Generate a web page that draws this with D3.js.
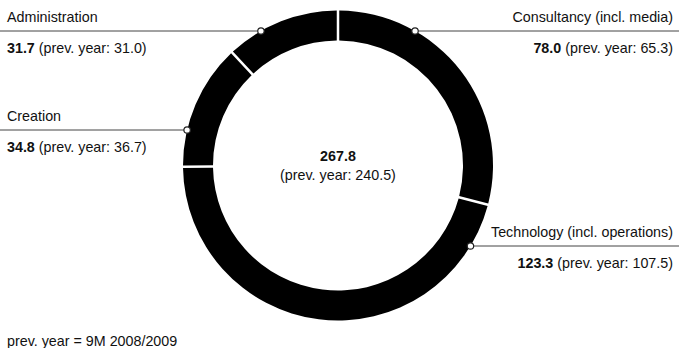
<!DOCTYPE html>
<html>
<head>
<meta charset="utf-8">
<script src="https://cdn.jsdelivr.net/npm/d3@7/dist/d3.min.js"></script>
<style>
  html, body { margin: 0; padding: 0; background: #fff; }
  svg { display: block; font-family: "Liberation Sans", Arial, Helvetica, sans-serif; }
</style>
</head>
<body>
<svg id="chart" width="679" height="348"></svg>
<script>
// Revenue by segment, clockwise from 12 o'clock
const segments = ["Consultancy (incl. media)", "Technology (incl. operations)", "Creation", "Administration"];
const values = [78.0, 123.3, 34.8, 31.7];
const prevValues = [65.3, 107.5, 36.7, 31.0];
const total = 267.8;
const prevTotal = 240.5;
const footnote = "prev. year = 9M 2008/2009";

// Label placement per segment: side and baseline of the name row
const labelSide = ["right", "right", "left", "left"];
const labelY = [21.5, 236.5, 120.5, 21.5];

const W = 679, H = 348;
const cx = 338, cy = 165.5, R = 155, r = 125;
const FS = 14.3;
const fmt = d3.format(".1f");

const svg = d3.select("#chart");

const pie = d3.pie().sort(null).value(d => d).padAngle(2.5 / 140);
const arc = d3.arc().innerRadius(r).outerRadius(R).padRadius(140);

const g = svg.append("g").attr("transform", `translate(${cx},${cy})`);
g.selectAll("path")
  .data(pie(values))
  .join("path")
  .attr("d", arc)
  .attr("fill", "#000");

// Centre total
const centre = svg.append("g").attr("text-anchor", "middle").attr("fill", "#111").attr("font-size", FS);
centre.append("text").attr("x", cx).attr("y", 160.5).attr("font-weight", "bold").text(fmt(total));
centre.append("text").attr("x", cx).attr("y", 179.5).text(`(prev. year: ${fmt(prevTotal)})`);

// Leader lines and labels
segments.forEach((name, i) => {
  const side = labelSide[i];
  const lineY = labelY[i] + 9.5;
  const dy = lineY - cy;
  const dx = Math.sqrt(R * R - dy * dy);
  const dotX = side === "right" ? cx + dx : cx - dx;

  svg.append("line")
    .attr("x1", side === "right" ? dotX : 0)
    .attr("x2", side === "right" ? W : dotX)
    .attr("y1", lineY).attr("y2", lineY)
    .attr("stroke", "#444").attr("stroke-width", 1);

  svg.append("circle")
    .attr("cx", dotX).attr("cy", lineY).attr("r", 3.2)
    .attr("fill", "#fff").attr("stroke", "#222").attr("stroke-width", 1.2);

  const tx = side === "right" ? 673 : 7;
  const anchor = side === "right" ? "end" : "start";

  svg.append("text")
    .attr("x", tx).attr("y", labelY[i])
    .attr("text-anchor", anchor).attr("font-size", FS).attr("fill", "#111")
    .text(name);

  const val = svg.append("text")
    .attr("x", tx).attr("y", labelY[i] + 31.5)
    .attr("text-anchor", anchor).attr("font-size", FS).attr("fill", "#111");
  val.append("tspan").attr("font-weight", "bold").text(fmt(values[i]));
  val.append("tspan").text(` (prev. year: ${fmt(prevValues[i])})`);
});

svg.append("text")
  .attr("x", 7).attr("y", 345.5)
  .attr("font-size", FS).attr("fill", "#111")
  .text(footnote);
</script>
</body>
</html>
